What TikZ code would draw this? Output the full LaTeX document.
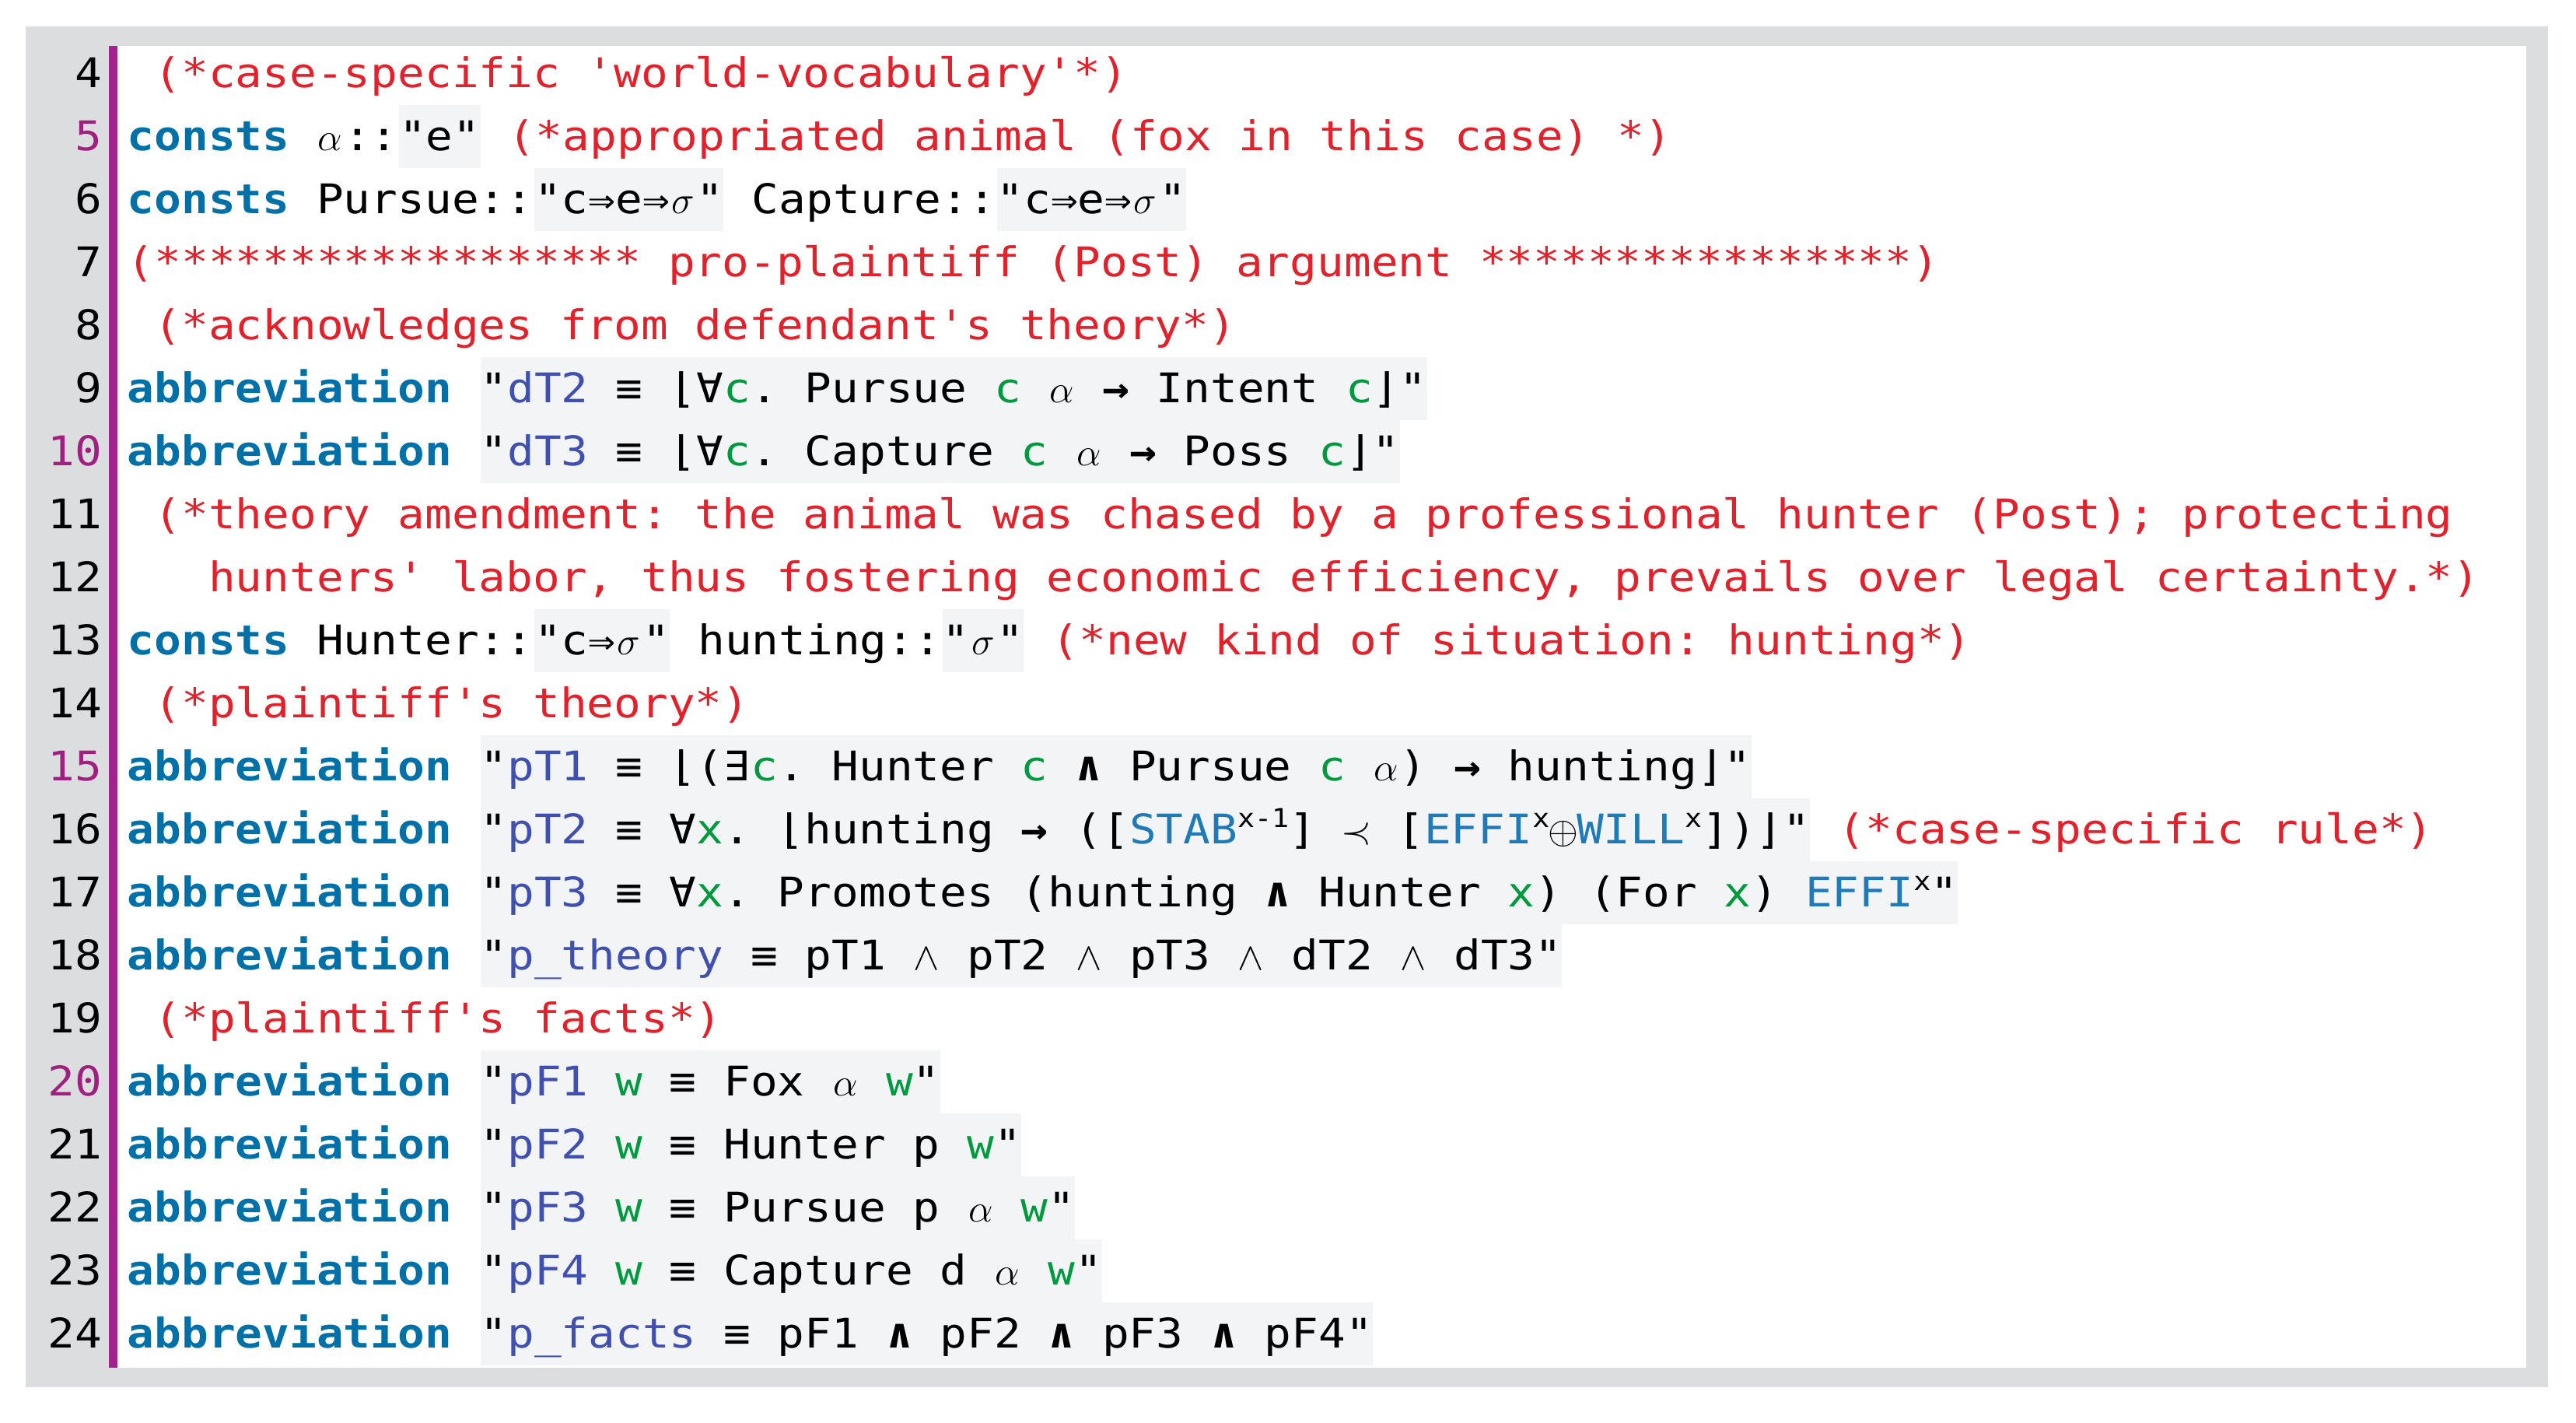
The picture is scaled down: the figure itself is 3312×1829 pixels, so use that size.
\documentclass[tikz,border=0pt]{standalone}
\usepackage{fontspec}
\setmonofont[FakeStretch=1.1]{DejaVu Sans Mono}
\definecolor{kw}{HTML}{0070A8}
\definecolor{cm}{HTML}{E4202A}
\definecolor{ab}{HTML}{4050B0}
\definecolor{bv}{HTML}{009A3E}
\definecolor{cn}{HTML}{1F7AB8}
\definecolor{lnm}{HTML}{A0207F}
\definecolor{barc}{HTML}{A3238E}
\definecolor{frame}{HTML}{DCDDDF}
\definecolor{hlc}{HTML}{F3F4F6}
\newlength\cw
\setlength\cw{8.35pt}
\newcommand\kwd[1]{\textcolor{kw}{\bfseries #1}}
\newcommand\cmt[1]{\textcolor{cm}{#1}}
\newcommand\abn[1]{\textcolor{ab}{#1}}
\newcommand\bvr[1]{\textcolor{bv}{#1}}
\newcommand\cst[1]{\textcolor{cn}{#1}}
\newcommand\sym[1]{\makebox[\cw]{$#1$}}
\newcommand\uc[1]{\makebox[\cw]{#1}}
\newcommand\arr{\makebox[\cw]{\bfseries →}}
\newcommand\spc{\makebox[\cw]{}}
\newcommand\spx[1]{\raisebox{5pt}{\fontsize{8}{8}\selectfont #1}}
\begin{document}
\begin{tikzpicture}[x=0.24pt,y=-0.24pt,
  every node/.style={inner sep=0pt,anchor=base west,text height=13.9pt,text depth=5.5pt,font=\ttfamily\fontsize{12.6}{15}\selectfont},
  ln/.style={anchor=base east},
  hl/.style={fill=hlc}]
\useasboundingbox (0,0) rectangle (3312,1829);
\fill[frame] (33,34) rectangle (3276,1783);
\fill[white] (151,59) rectangle (3248,1758);
\fill[barc] (140,59) rectangle (151,1758);
% line numbers
\foreach \n in {4,...,24}{
  \pgfmathtruncatemacro\yy{112+81*(\n-4)}
  \ifnum\n=5 \def\lc{lnm}\else\ifnum\n=10 \def\lc{lnm}\else\ifnum\n=15 \def\lc{lnm}\else\ifnum\n=20 \def\lc{lnm}\else\def\lc{black}\fi\fi\fi\fi
  \node[ln,text=\lc] (n\n) at (132,\yy) {\n};
}
% 4
\node (l4) at (163,112) {\cmt{\spc(*case-specific 'world-vocabulary'*)}};
% 5
\node (l5a) at (163,193) {\kwd{consts}\spc\sym{\alpha}::};
\node[hl] (l5b) at (l5a.base east) {"e"};
\node (l5c) at (l5b.base east) {\spc\cmt{(*appropriated animal (fox in this case) *)}};
% 6
\node (l6a) at (163,274) {\kwd{consts}\spc Pursue::};
\node[hl] (l6b) at (l6a.base east) {"c\uc{⇒}e\uc{⇒}\sym{\sigma}"};
\node (l6c) at (l6b.base east) {\spc Capture::};
\node[hl] (l6d) at (l6c.base east) {"c\uc{⇒}e\uc{⇒}\sym{\sigma}"};
% 7
\node (l7) at (163,355) {\cmt{(****************** pro-plaintiff (Post) argument ****************)}};
% 8
\node (l8) at (163,436) {\cmt{\spc(*acknowledges from defendant's theory*)}};
% 9
\node (l9a) at (163,517) {\kwd{abbreviation}\spc};
\node[hl] (l9b) at (l9a.base east) {"\abn{dT2} \uc{≡} \uc{⌊}\uc{∀}\bvr{c}. Pursue \bvr{c} \sym{\alpha} \arr{} Intent \bvr{c}\uc{⌋}"};
% 10
\node (l10a) at (163,598) {\kwd{abbreviation}\spc};
\node[hl] (l10b) at (l10a.base east) {"\abn{dT3} \uc{≡} \uc{⌊}\uc{∀}\bvr{c}. Capture \bvr{c} \sym{\alpha} \arr{} Poss \bvr{c}\uc{⌋}"};
% 11-12
\node (l11) at (163,679) {\cmt{\spc(*theory amendment: the animal was chased by a professional hunter (Post); protecting}};
\node (l12) at (163,760) {\cmt{\spc\spc\spc hunters' labor, thus fostering economic efficiency, prevails over legal certainty.*)}};
% 13
\node (l13a) at (163,841) {\kwd{consts}\spc Hunter::};
\node[hl] (l13b) at (l13a.base east) {"c\uc{⇒}\sym{\sigma}"};
\node (l13c) at (l13b.base east) {\spc hunting::};
\node[hl] (l13d) at (l13c.base east) {"\sym{\sigma}"};
\node (l13e) at (l13d.base east) {\spc\cmt{(*new kind of situation: hunting*)}};
% 14
\node (l14) at (163,922) {\cmt{\spc(*plaintiff's theory*)}};
% 15
\node (l15a) at (163,1003) {\kwd{abbreviation}\spc};
\node[hl] (l15b) at (l15a.base east) {"\abn{pT1} \uc{≡} \uc{⌊}(\uc{∃}\bvr{c}. Hunter \bvr{c} \uc{\bfseries ∧} Pursue \bvr{c} \sym{\alpha}) \arr{} hunting\uc{⌋}"};
% 16
\node (l16a) at (163,1084) {\kwd{abbreviation}\spc};
\node[hl] (l16b) at (l16a.base east) {"\abn{pT2} \uc{≡} \uc{∀}\bvr{x}. \uc{⌊}hunting \arr{} ([\cst{STAB}\spx{x-1}] \sym{\prec} [\cst{EFFI}\spx{x}\sym{\oplus}\cst{WILL}\spx{x}])\uc{⌋}"};
\node (l16c) at (l16b.base east) {\spc\cmt{(*case-specific rule*)}};
% 17
\node (l17a) at (163,1165) {\kwd{abbreviation}\spc};
\node[hl] (l17b) at (l17a.base east) {"\abn{pT3} \uc{≡} \uc{∀}\bvr{x}. Promotes (hunting \uc{\bfseries ∧} Hunter \bvr{x}) (For \bvr{x}) \cst{EFFI}\spx{x}"};
% 18
\node (l18a) at (163,1246) {\kwd{abbreviation}\spc};
\node[hl] (l18b) at (l18a.base east) {"\abn{p\_theory} \uc{≡} pT1 \sym{\wedge} pT2 \sym{\wedge} pT3 \sym{\wedge} dT2 \sym{\wedge} dT3"};
% 19
\node (l19) at (163,1327) {\cmt{\spc(*plaintiff's facts*)}};
% 20-24
\node (l20a) at (163,1408) {\kwd{abbreviation}\spc};
\node[hl] (l20b) at (l20a.base east) {"\abn{pF1} \bvr{w} \uc{≡} Fox \sym{\alpha} \bvr{w}"};
\node (l21a) at (163,1489) {\kwd{abbreviation}\spc};
\node[hl] (l21b) at (l21a.base east) {"\abn{pF2} \bvr{w} \uc{≡} Hunter p \bvr{w}"};
\node (l22a) at (163,1570) {\kwd{abbreviation}\spc};
\node[hl] (l22b) at (l22a.base east) {"\abn{pF3} \bvr{w} \uc{≡} Pursue p \sym{\alpha} \bvr{w}"};
\node (l23a) at (163,1651) {\kwd{abbreviation}\spc};
\node[hl] (l23b) at (l23a.base east) {"\abn{pF4} \bvr{w} \uc{≡} Capture d \sym{\alpha} \bvr{w}"};
\node (l24a) at (163,1732) {\kwd{abbreviation}\spc};
\node[hl] (l24b) at (l24a.base east) {"\abn{p\_facts} \uc{≡} pF1 \uc{\bfseries ∧} pF2 \uc{\bfseries ∧} pF3 \uc{\bfseries ∧} pF4"};
\end{tikzpicture}
\end{document}
